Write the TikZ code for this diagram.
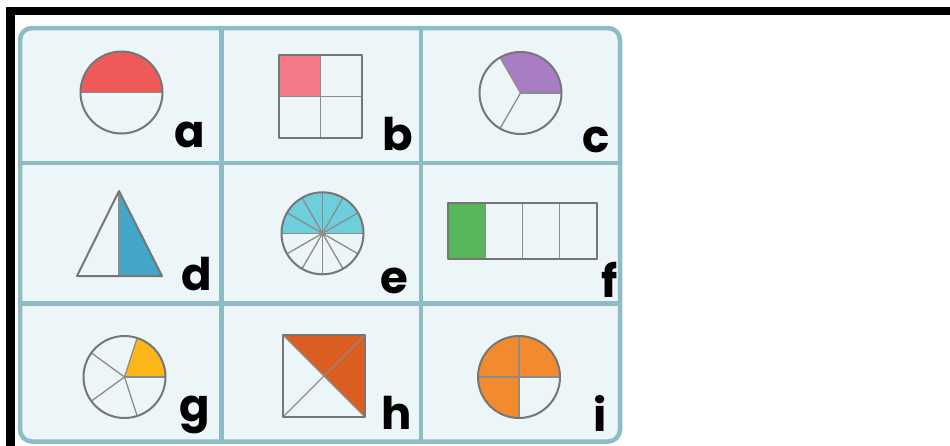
\documentclass[tikz,border=0pt]{standalone}
\usepackage{fontspec}
\newfontfamily\labfont{Poppins}
\usetikzlibrary{positioning}
\definecolor{frame}{HTML}{8DBBC6}
\definecolor{cellbg}{HTML}{ECF5F8}
\definecolor{edge}{HTML}{767676}
\definecolor{thin}{HTML}{8C8C8C}
\definecolor{redA}{HTML}{EE5A5A}
\definecolor{pinkB}{HTML}{F47A8A}
\definecolor{purpleC}{HTML}{A87DC4}
\definecolor{blueD}{HTML}{43A5C7}
\definecolor{cyanE}{HTML}{6DCFDC}
\definecolor{greenF}{HTML}{57B55A}
\definecolor{yellowG}{HTML}{FDB61A}
\definecolor{rustH}{HTML}{DD5C20}
\definecolor{orangeI}{HTML}{F28A2E}
\tikzset{grid/.style={draw=frame,line width=4.5pt},outline/.style={draw=edge,line width=2pt,line join=round},
  divide/.style={draw=thin,line width=1.3pt},letter/.style={anchor=base east,inner sep=0pt,font=\labfont\bfseries\fontsize{45}{45}\selectfont}}
\newcommand{\wedgefill}[4]{\fill[#1] (#2) -- ++(#3:41pt) arc[start angle=#3,end angle=#4,radius=41pt] -- cycle;}
\newcommand{\spokes}[2]{\foreach \a in {#2}{\draw[divide] (#1) -- ++(\a:41pt);}}
\begin{document}
\begin{tikzpicture}[x=1pt,y=-1pt]
\useasboundingbox (0,0) rectangle (950,445);
\clip (0,0) rectangle (950,445);
% Black frame at the top and left.
\draw[line width=8.5pt] (10.5,460) -- (10.5,11) -- (960,11);
% Card with the 3x3 grid.
\draw[grid,fill=cellbg,rounded corners=12pt] (20,28) rectangle (620,441.5);
\foreach \x in {221.5,421}{\draw[grid] (\x,28) -- (\x,441.5);}
\foreach \y in {163,303.5}{\draw[grid] (20,\y) -- (620,\y);}
% a: half circle.
\coordinate (ca) at (121.5,92.5);
\wedgefill{redA}{ca}{0}{180}
\draw[divide] (80.5,92.5) -- (162.5,92.5);
\draw[outline] (ca) circle[radius=41pt];
% b: quarter square.
\fill[pinkB] (279,55) rectangle (320.5,96.5);
\draw[divide] (320.5,55) -- (320.5,138) (279,96.5) -- (362,96.5);
\draw[outline] (279,55) rectangle (362,138);
% c: third of a circle.
\coordinate (cc) at (520.5,93);
\wedgefill{purpleC}{cc}{0}{120}
\spokes{cc}{0,120,240}
\draw[outline] (cc) circle[radius=41pt];
% d: half triangle.
\fill[blueD] (119,191) -- (162,276) -- (119,276) -- cycle;
\draw[divide] (119,191) -- (119,276);
\draw[outline] (119,191) -- (162,276) -- (77,276) -- cycle;
% e: six twelfths.
\coordinate (ce) at (322.5,233.3);
\wedgefill{cyanE}{ce}{0}{180}
\spokes{ce}{0,30,...,330}
\draw[outline] (ce) circle[radius=41pt];
% f: quarter strip.
\fill[greenF] (448,203) rectangle (485.25,259);
\foreach \x in {485.25,522.5,559.75}{\draw[divide] (\x,203) -- (\x,259);}
\draw[outline] (448,203) rectangle (597,259);
% g: fifth of a circle.
\coordinate (cg) at (124.5,377);
\wedgefill{yellowG}{cg}{0}{72}
\spokes{cg}{0,72,144,216,288}
\draw[outline] (cg) circle[radius=41pt];
% h: half square by diagonals.
\fill[rustH] (283,335) -- (365,335) -- (365,417) -- (324,376) -- cycle;
\draw[divide] (283,335) -- (365,417) (365,335) -- (283,417);
\draw[outline] (283,335) rectangle (365,417);
% i: three quarters.
\coordinate (ci) at (519,377);
\wedgefill{orangeI}{ci}{0}{270}
\spokes{ci}{0,90,180,270}
\draw[outline] (ci) circle[radius=41pt];
% Letters.
\foreach \lab/\x/\y in {a/205/147,b/413/150,c/610/152,d/212/290,e/408/293,f/618/297,g/210/421,h/412/429,i/607/431}{
  \node[letter] (lab\lab) at (\x,\y) {\lab};
}
\end{tikzpicture}
\end{document}
